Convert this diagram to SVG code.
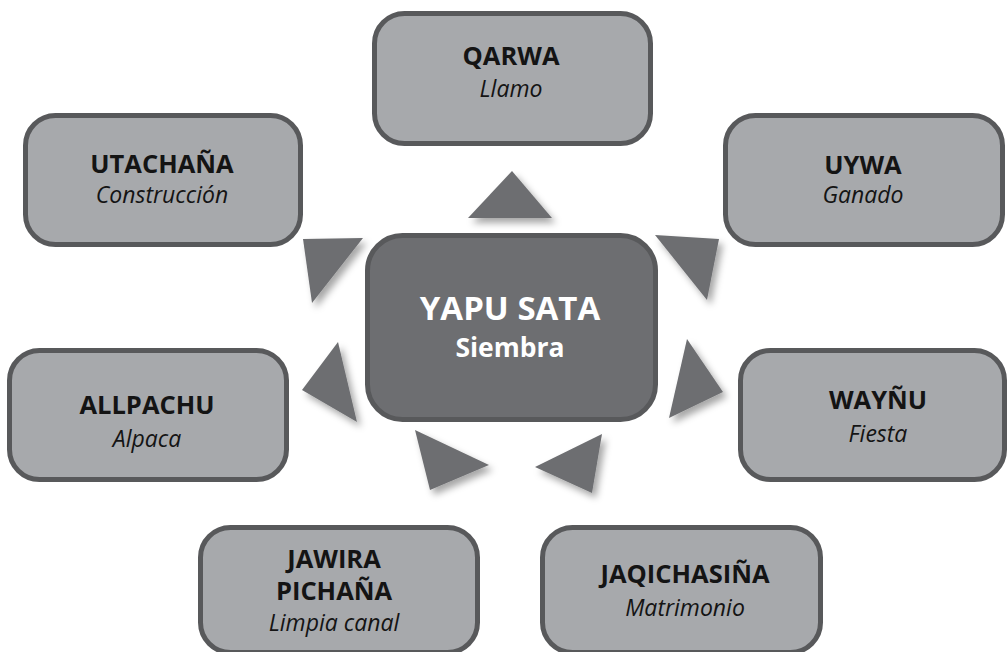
<svg xmlns="http://www.w3.org/2000/svg" width="1007" height="652" viewBox="0 0 1007 652">
<style>
.box{fill:#a7a9ac;stroke:#58595b;stroke-width:5}
.center{fill:#6d6e71;stroke:#58595b;stroke-width:5}
.t{font-family:"Open Sans","Noto Sans","Liberation Sans",sans-serif;font-weight:bold;font-size:25.5px;fill:#141414;text-anchor:middle}
.s{font-family:"Open Sans","Noto Sans","Liberation Sans",sans-serif;font-style:italic;font-size:23px;fill:#141414;text-anchor:middle}
.ct{font-family:"Open Sans","Noto Sans","Liberation Sans",sans-serif;font-weight:bold;font-size:33px;fill:#fff;text-anchor:middle}
.cs{font-family:"Open Sans","Noto Sans","Liberation Sans",sans-serif;font-weight:bold;font-size:26.5px;fill:#fff;text-anchor:middle}
.arr{fill:#6d6e71;filter:url(#sh)}
</style>
<defs>
<filter id="sh" x="-40%" y="-40%" width="180%" height="180%">
<feDropShadow dx="4" dy="5" stdDeviation="3.5" flood-color="#000" flood-opacity="0.35"/>
</filter>
</defs>
<rect width="1007" height="652" fill="#fff"/>
<g id="connectors">
<polygon class="arr" points="512,171 468,218 552,218"/>
<polygon class="arr" points="303,239 363,238 312,303"/>
<polygon class="arr" points="302,390 338,342 357,422"/>
<polygon class="arr" points="655,235 719,239 707,300"/>
<polygon class="arr" points="687,339 723,392 669,418"/>
<polygon class="arr" points="415,430 489,465 430,490"/>
<polygon class="arr" points="535,467 602,434 592,493"/>
</g>
<g id="qarwa">
<rect class="box" x="374.5" y="13.5" width="276" height="130" rx="30"/>
<text class="t" x="511" y="65">QARWA</text>
<text class="s" x="511" y="97">Llamo</text>
</g>
<g id="utachana">
<rect class="box" x="25.5" y="115.5" width="275" height="129" rx="30"/>
<text class="t" x="162" y="173">UTACHAÑA</text>
<text class="s" x="162" y="203">Construcción</text>
</g>
<g id="uywa">
<rect class="box" x="725.5" y="115.5" width="277" height="129" rx="30"/>
<text class="t" x="863" y="174">UYWA</text>
<text class="s" x="863" y="203">Ganado</text>
</g>
<g id="yapu-sata">
<rect class="center" x="367.5" y="235.5" width="288" height="184" rx="35"/>
<text class="ct" x="510" y="320">YAPU SATA</text>
<text class="cs" x="510" y="357">Siembra</text>
</g>
<g id="allpachu">
<rect class="box" x="9.5" y="350.5" width="277" height="129" rx="30"/>
<text class="t" x="147" y="414">ALLPACHU</text>
<text class="s" x="147" y="447">Alpaca</text>
</g>
<g id="waynu">
<rect class="box" x="740.5" y="350.5" width="264" height="129" rx="30"/>
<text class="t" x="878" y="409">WAYÑU</text>
<text class="s" x="878" y="442">Fiesta</text>
</g>
<g id="jawira-pichana">
<rect class="box" x="200.5" y="527.5" width="277" height="125" rx="30"/>
<text class="t" x="334" y="568">JAWIRA</text>
<text class="t" x="334" y="600">PICHAÑA</text>
<text class="s" x="334" y="631">Limpia canal</text>
</g>
<g id="jaqichasina">
<rect class="box" x="542.5" y="527.5" width="278" height="125" rx="30"/>
<text class="t" x="685" y="583">JAQICHASIÑA</text>
<text class="s" x="685" y="616">Matrimonio</text>
</g>
</svg>
